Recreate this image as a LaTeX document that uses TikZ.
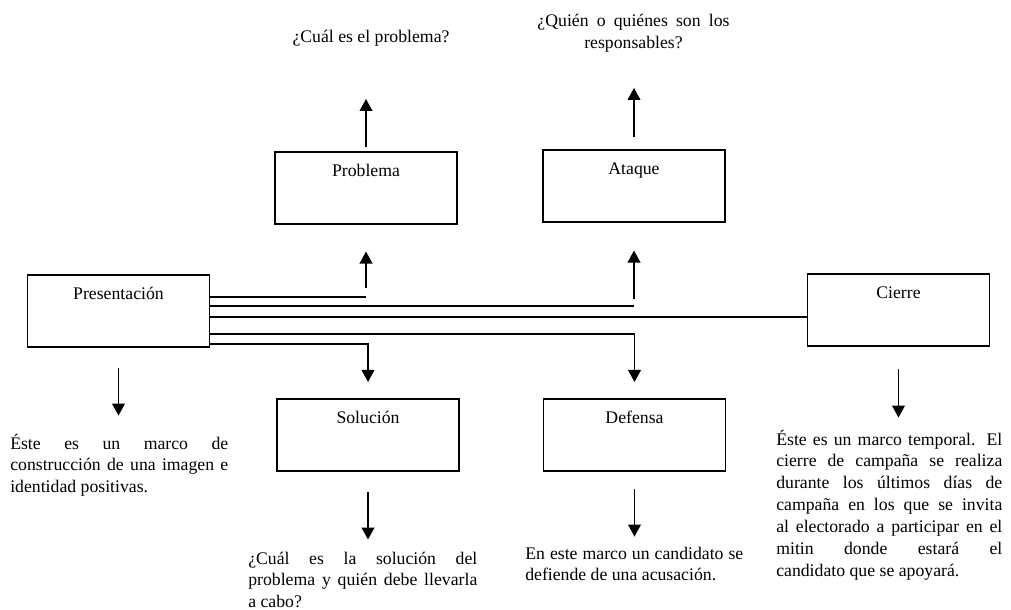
\documentclass[tikz,border=0pt]{standalone}
\usepackage{fontspec}
\setmainfont{Liberation Serif}
\usetikzlibrary{arrows.meta}
\hyphenpenalty=10000
\exhyphenpenalty=10000

\tikzset{
  frame/.style={draw, line width=1.1pt, minimum width=4.55cm, text height=0.62cm, text depth=1.18cm, inner sep=0pt, anchor=north},
  note/.style={inner sep=0pt, text width=#1, align=justify, anchor=base west},
  link/.style={line width=1pt},
  arr/.style={line width=1pt, -{Triangle[length=3mm,width=3.2mm]}},
}

\begin{document}
\begin{tikzpicture}[x=0.025cm, y=-0.025cm, font=\fontsize{12.6}{15.6}\selectfont]
\useasboundingbox (0,0) rectangle (1011,610);
\node[frame] (pres) at (118.5,274) {Presentación};
\node[frame] (prob) at (366,151) {Problema};
\node[frame] (ataq) at (634,149) {Ataque};
\node[frame] (cier) at (898.5,273) {Cierre};
\node[frame] (sol) at (368,398) {Solución};
\node[frame] (def) at (634.5,398) {Defensa};
\node[anchor=base, inner sep=0pt] (qprob) at (371,43) {¿Cuál es el problema?};
\node[anchor=base, inner sep=0pt, text width=4.8cm, align=center] (qataq) at (633.5,27) {¿Quién\hfill o\hfill quiénes\hfill son\hfill los\\responsables?};
\node[note=5.45cm] (tpres) at (10,449) {Éste es un marco de\linebreak construcción de una imagen e\linebreak identidad positivas.};
\node[note=5.725cm] (tsol) at (248,564) {¿Cuál es la solución del\linebreak problema y quién debe llevarla\linebreak a cabo?};
\node[note=5.45cm] (tdef) at (525,559) {En este marco un candidato se\linebreak defiende de una acusación.};
\node[note=5.65cm] (tcier) at (776,445) {Éste es un marco temporal. El\linebreak cierre de campaña se realiza\linebreak durante los últimos días de\linebreak campaña en los que se invita\linebreak al electorado a participar en el\linebreak mitin donde estará el\linebreak candidato que se apoyará.};
\draw[link] (pres.east |- 0,297) -- (prob.south |- 0,297);
\draw[arr, shorten <=0.225cm, shorten >=0.675cm] (prob.south |- 0,297) -- (prob.south);
\draw[link] (pres.east |- 0,306) -- (ataq.south |- 0,306);
\draw[arr, shorten <=0.175cm, shorten >=0.7cm] (ataq.south |- 0,306) -- (ataq.south);
\draw[link] (pres.east |- 0,317) -- (cier.west |- 0,317);
\draw[arr, shorten >=0.4cm] (pres.east |- 0,334) -| (def.north);
\draw[arr, shorten >=0.4cm] (pres.east |- 0,344) -| (sol.north);
\draw[arr] ([yshift=0.1cm]prob.north) -- ++(0,1.2cm);
\draw[arr] ([yshift=0.3cm]ataq.north) -- ++(0,1.225cm);
\draw[arr] ([yshift=-0.5cm]pres.south) -- ++(0,-1.2cm);
\draw[arr] ([yshift=-0.55cm]cier.south) -- ++(0,-1.225cm);
\draw[arr] ([yshift=-0.5cm]sol.south) -- ++(0,-1.2cm);
\draw[arr] ([yshift=-0.425cm]def.south) -- ++(0,-1.2cm);
\end{tikzpicture}
\end{document}
